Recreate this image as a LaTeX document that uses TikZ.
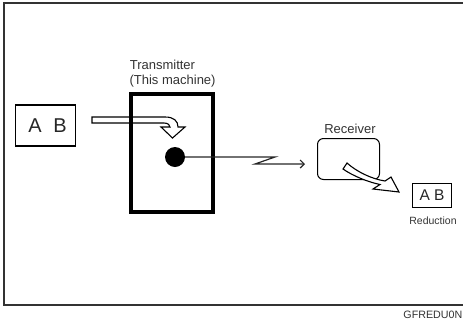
\documentclass[tikz,border=0pt]{standalone}
\usepackage{fontspec}
\setmainfont{Liberation Sans}
\usetikzlibrary{arrows.meta,calc}
\begin{document}
\begin{tikzpicture}[x=1pt,y=-1pt,
  lbl/.style={text=black!80, inner sep=0pt},
  boxnode/.style={draw=black, inner sep=0pt, line width=1.2pt},
  hollow/.style={draw=black, fill=white, line width=1.1pt, line join=miter},
  signal/.style={draw=black!85, line width=1.2pt},
]
\useasboundingbox (0,0) rectangle (463,322);
\clip (0,0) rectangle (463,322);
% outer frame (right side runs past the picture)
\draw[line width=1.3pt, black!80] (4,3) rectangle (490,305);
\node[lbl, anchor=base east, font=\fontsize{10.7}{12}\selectfont] (code) at (462.5,318.3) {GFREDU0N};

% original
\node[boxnode, minimum width=60pt, minimum height=41pt, font=\fontsize{20}{24}\selectfont, text=black!85]
  (orig) at (45.5,125.5) {\hspace{4pt}A\hspace{11.5pt}B};

% feed arrow (drawn below the transmitter frame)
\draw[hollow] (92,117) -- (165,117) .. controls (174,117) and (178,121) .. (178,127)
  -- (185,127) -- (172.5,138) -- (161,127) -- (170,127)
  .. controls (170,125) and (168,123) .. (164,123) -- (92,123) -- cycle;

% transmitter
\node[draw=black, line width=4.3pt, minimum width=81.8pt, minimum height=117.7pt, inner sep=0pt]
  (tx) at (172,153) {};
\node[lbl, anchor=base west, font=\fontsize{13}{16}\selectfont] (txl1) at (129.6,69) {Transmitter};
\node[lbl, anchor=base west, font=\fontsize{13}{16}\selectfont] (txl2) at (129.4,84.6) {(This machine)};
\node[circle, fill=black, minimum size=20pt, inner sep=0pt] (dot) at (175,157) {};

% receiver
\node[draw=black, line width=1pt, rounded corners=6pt, minimum width=62pt, minimum height=41pt, inner sep=0pt]
  (rx) at (348.5,159) {};
\node[lbl, anchor=base, font=\fontsize{13}{16}\selectfont] (rxl) at (350,133.3) {Receiver};

% signal
\coordinate (z1) at (275,157);
\coordinate (z2) at (255,164);
\coordinate (zend) at ($(rx.west)+(-12,5)$);
\draw[signal, -{Straight Barb[length=4pt,width=8pt]}] (dot.east) -- (z1) -- (z2) -- (zend);

% output arrow
\draw[hollow] (347,163) .. controls (357,172) and (372,179) .. (385,181)
  -- (391,177) -- (399,192) -- (373,189) -- (380,184.5)
  .. controls (368,182) and (353,176) .. (343,169) -- cycle;

% reduced copy
\node[boxnode, minimum width=39pt, minimum height=24pt, font=\fontsize{15.5}{18}\selectfont, text=black!85]
  (copy) at (432,195.5) {A B};
\node[lbl, anchor=base, font=\fontsize{10.5}{12}\selectfont] (red) at (433,224) {Reduction};
\end{tikzpicture}
\end{document}
